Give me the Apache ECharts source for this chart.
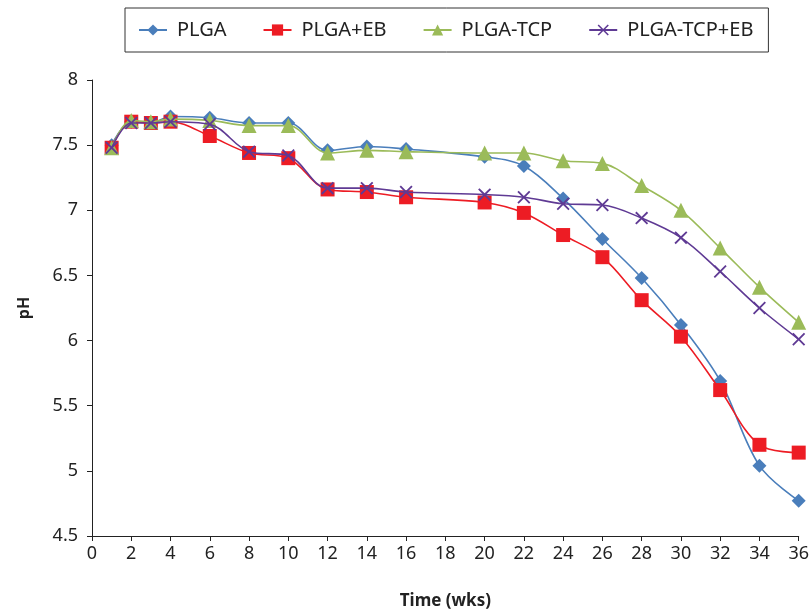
<!DOCTYPE html>
<html>
<head>
<meta charset="utf-8">
<script src="https://cdn.jsdelivr.net/npm/echarts@6/dist/echarts.min.js"></script>
<style>html,body{margin:0;padding:0;background:#fff;}#c{width:812px;height:615px;}</style>
</head>
<body>
<div id="c"></div>
<script>
var weeks = [1,2,3,4,6,8,10,12,14,16,20,22,24,26,28,30,32,34,36];
var plga = [7.50,7.68,7.67,7.72,7.71,7.67,7.67,7.46,7.49,7.47,7.41,7.34,7.09,6.78,6.48,6.12,5.69,5.04,4.77];
var plgaEB = [7.48,7.68,7.67,7.68,7.57,7.44,7.40,7.16,7.14,7.10,7.06,6.98,6.81,6.64,6.31,6.03,5.62,5.20,5.14];
var plgaTCP = [7.48,7.69,7.68,7.70,7.69,7.65,7.65,7.44,7.46,7.45,7.44,7.44,7.38,7.36,7.19,7.00,6.71,6.41,6.14];
var plgaTCPEB = [7.48,7.67,7.67,7.68,7.66,7.45,7.42,7.17,7.17,7.14,7.12,7.10,7.05,7.04,6.94,6.79,6.53,6.25,6.01];
var seriesNames = ['PLGA','PLGA+EB','PLGA-TCP','PLGA-TCP+EB'];

function pairs(ys){ return weeks.map(function(w,i){ return [w, ys[i]]; }); }
var FONT = 'Noto Sans';
var crossPath = 'path://M0,1L1,0L5,4L9,0L10,1L6,5L10,9L9,10L5,6L1,10L0,9L4,5Z';

var defs = [
  {data: plga, color:'#4a7ebb', symbol:'diamond', size:14},
  {data: plgaEB, color:'#ed1c24', symbol:'rect', size:14},
  {data: plgaTCP, color:'#9bbb59', symbol:'triangle', size:15},
  {data: plgaTCPEB, color:'#5f3a94', symbol:crossPath, size:13}
];

var chart = echarts.init(document.getElementById('c'), null, {renderer:'canvas'});
chart.setOption({
  animation:false,
  backgroundColor:'#fff',
  textStyle:{fontFamily:FONT},
  legend:{
    top:8, left:125,
    padding:[12,15,12,13],
    borderColor:'#333', borderWidth:1,
    itemWidth:28, itemHeight:14, itemGap:36,
    textStyle:{fontSize:20, color:'#222', fontFamily:FONT, padding:[0,0,0,5]},
    data: seriesNames
  },
  grid:{left:92, right:13, top:80, bottom:78, containLabel:false},
  xAxis:{
    type:'value', min:0, max:36, interval:2,
    name:'Time (wks)', nameLocation:'middle', nameGap:57,
    nameTextStyle:{fontSize:17, fontWeight:'bold', color:'#222', fontFamily:FONT},
    axisLine:{show:true, lineStyle:{color:'#222', width:1}},
    axisTick:{show:true, length:5, lineStyle:{color:'#222'}},
    axisLabel:{fontSize:18, color:'#222', margin:9},
    splitLine:{show:false}
  },
  yAxis:{
    type:'value', min:4.5, max:8, interval:0.5,
    name:'pH', nameLocation:'middle', nameGap:60,
    nameTextStyle:{fontSize:16, fontWeight:'bold', color:'#222', fontFamily:FONT},
    axisLine:{show:true, lineStyle:{color:'#222', width:1}},
    axisTick:{show:true, length:5, lineStyle:{color:'#222'}},
    axisLabel:{fontSize:18, color:'#222', margin:14},
    splitLine:{show:false}
  },
  series: defs.map(function(d,i){
    return {
      name: seriesNames[i], type:'line', data: pairs(d.data),
      smooth:0.35, symbol:d.symbol, symbolSize:d.size,
      showAllSymbol:true,
      lineStyle:{color:d.color, width:1.6},
      itemStyle:{color:d.color},
      z: 2+i
    };
  })
});
</script>
</body>
</html>
